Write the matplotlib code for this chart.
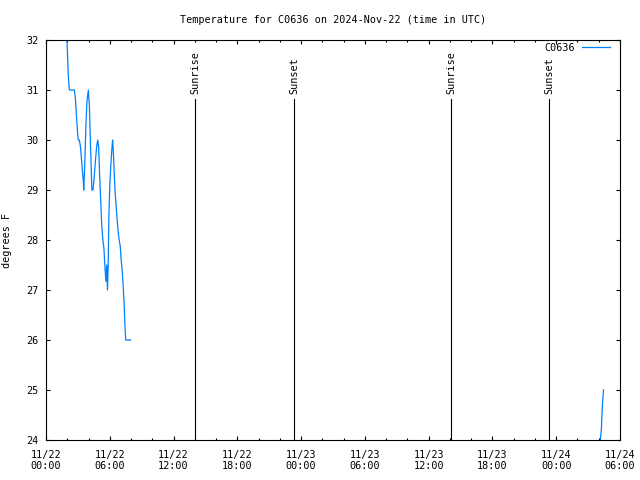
import numpy as np
import pandas as pd
import matplotlib
matplotlib.use("Agg")
import matplotlib.pyplot as plt
import matplotlib.dates as mdates

# station readings, minutes after 2024-11-22 00:00 UTC
minutes_a = [118, 121, 126, 132, 160, 166, 171, 177, 182, 188, 194, 199, 205, 211,
             213, 219, 225, 231, 239, 245, 250, 256, 259, 265, 270, 275, 281, 287,
             292, 297, 303, 309, 315, 321, 327, 332, 338, 343, 347, 351, 355, 361,
             366, 372, 376, 380, 386, 391, 397, 402, 408, 413, 419, 424, 430, 435,
             441, 446, 450, 478]
temps_a = [32.0, 31.77, 31.27, 31.0, 31.0, 30.83, 30.53, 30.2, 30.0, 30.0, 29.88,
           29.67, 29.4, 29.17, 29.0, 29.53, 30.27, 30.77, 31.0, 30.68, 30.03, 29.35,
           29.0, 29.0, 29.17, 29.4, 29.67, 29.9, 30.0, 29.87, 29.27, 28.77, 28.27,
           28.0, 27.83, 27.5, 27.17, 27.5, 27.0, 27.5, 28.5, 29.17, 29.5, 29.83,
           30.0, 29.77, 29.27, 28.9, 28.63, 28.38, 28.15, 28.0, 27.88, 27.61, 27.39,
           27.12, 26.73, 26.25, 26.0, 26.0]
minutes_b = [3129, 3135, 3141, 3147]
temps_b = [24.0, 24.23, 24.73, 25.0]

sunrise = ["2024-11-22 14:02", "2024-11-23 14:07"]
sunset = ["2024-11-22 23:20", "2024-11-23 23:22"]

start = pd.Timestamp("2024-11-22 00:00")
end = pd.Timestamp("2024-11-24 06:00")

# nan between the two pieces leaves the gap in the line
mins = minutes_a + [minutes_a[-1] + 1] + minutes_b
temps = temps_a + [np.nan] + temps_b
times = [start + pd.Timedelta(minutes=m) for m in mins]

plt.rcParams["font.family"] = "DejaVu Sans Mono"
plt.rcParams["font.size"] = 7.3

fig = plt.figure(figsize=(6.4, 4.8), dpi=100)
ax = fig.add_axes([46 / 640, 40 / 480, 574 / 640, 400 / 480])

ax.plot(times, temps, color="#0080ff", linewidth=0.9, label="C0636")

for t in sunrise:
    ax.plot([pd.Timestamp(t)] * 2, [24, 30.82], color="black", linewidth=0.8)
    ax.text(pd.Timestamp(t), 30.92, "Sunrise", rotation=90, ha="center", va="bottom")
for t in sunset:
    ax.plot([pd.Timestamp(t)] * 2, [24, 30.82], color="black", linewidth=0.8)
    ax.text(pd.Timestamp(t), 30.92, "Sunset", rotation=90, ha="center", va="bottom")

ax.set_xlim(start, end)
ax.set_ylim(24, 32)
ax.xaxis.set_major_locator(mdates.HourLocator(interval=6))
ax.xaxis.set_minor_locator(mdates.HourLocator(interval=2))
ax.xaxis.set_major_formatter(mdates.DateFormatter("%m/%d\n%H:%M"))
ax.set_yticks(range(24, 33))
ax.tick_params(which="both", direction="in", top=True, right=True, width=0.8)
ax.tick_params(which="major", length=3.0)
ax.tick_params(which="minor", length=1.6)
ax.tick_params(axis="x", which="major", pad=7)
ax.tick_params(axis="y", which="major", pad=5.5)
for lbl in ax.get_xticklabels():
    lbl.set_linespacing(1.1)
for s in ax.spines.values():
    s.set_linewidth(0.8)

# y label sits right at the left edge, like the reference
fig.text(7 / 640, 1 - 240 / 480, "degrees F", rotation=90, ha="center", va="center")
ax.set_title("Temperature for C0636 on 2024-Nov-22 (time in UTC)", fontsize=7.3, pad=12)
ax.legend(loc="center right", bbox_to_anchor=(0.9826, 0.98), frameon=False,
          markerfirst=False, handlelength=2.8, borderaxespad=0, borderpad=0,
          handletextpad=0.7)

fig.savefig("out.png", dpi=100)
